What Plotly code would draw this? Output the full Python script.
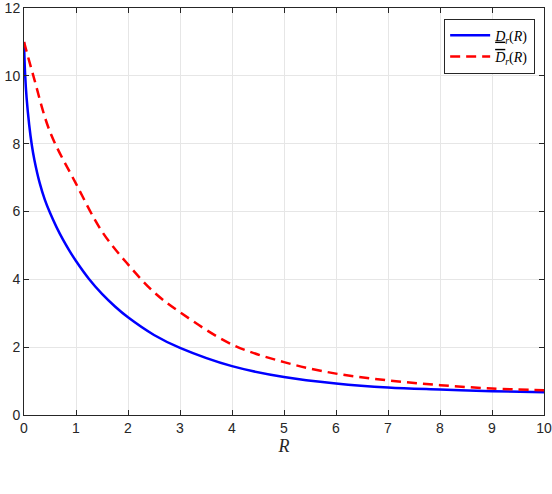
import plotly.graph_objects as go

# curve values
r_lower = [0, 0.02, 0.05, 0.1, 0.15, 0.2, 0.3, 0.4, 0.5, 0.625, 0.75, 0.875, 1, 1.25, 1.5, 1.75, 2, 2.5, 3, 4, 5, 6, 7, 8, 9, 10]
d_lower = [11.0, 10.1, 9.35, 8.55, 7.96, 7.52, 6.85, 6.35, 5.96, 5.54, 5.17, 4.84, 4.54, 4.01, 3.57, 3.20, 2.88, 2.36, 1.98, 1.44, 1.12, 0.93, 0.81, 0.75, 0.70, 0.67]

r_upper = [0, 0.18, 0.5, 1, 1.5, 2, 2.5, 3, 4, 5, 6, 7, 8, 9, 10]
d_upper = [11.0, 10.0, 8.35, 6.82, 5.41, 4.44, 3.62, 3.03, 2.08, 1.56, 1.22, 1.02, 0.88, 0.78, 0.73]

x_ticks = list(range(0, 11))
y_ticks = [0, 2, 4, 6, 8, 10, 12]

name_lower = '<u><i>D</i></u><sub><i>r</i></sub>(<i>R</i>)'
name_upper = '<span style="text-decoration:overline"><i>D</i></span><sub><i>r</i></sub>(<i>R</i>)'

fig = go.Figure()
fig.add_trace(go.Scatter(x=r_lower, y=d_lower, mode='lines', name=name_lower,
                         line=dict(color='#0000ff', width=2.5, shape='spline', smoothing=1.0)))
fig.add_trace(go.Scatter(x=r_upper, y=d_upper, mode='lines', name=name_upper,
                         line=dict(color='#ff0000', width=2.5, dash='10px,6px', shape='spline', smoothing=1.0)))

axis_common = dict(
    showline=True, linecolor='#262626', linewidth=1, mirror='ticks',
    ticks='inside', ticklen=5, tickcolor='#262626',
    showgrid=True, gridcolor='#e6e6e6', gridwidth=1,
    zeroline=False, automargin=False, ticklabeloverflow='allow',
    tickfont=dict(family='Liberation Sans, Arial', size=14, color='#262626'),
)

fig.update_xaxes(range=[0, 10], tickvals=x_ticks,
                 title=dict(text='<i>R</i>', font=dict(family='Liberation Serif, Times New Roman', size=18, color='#262626'),
                            standoff=2),
                 **axis_common)
fig.update_yaxes(range=[0, 12], tickvals=y_ticks, **axis_common)

fig.update_layout(
    width=552, height=494,
    margin=dict(l=24, r=8, t=8, b=79),
    paper_bgcolor='white',
    plot_bgcolor='white',
    showlegend=True,
    legend=dict(
        x=0.983, y=0.974, xanchor='right', yanchor='top',
        bgcolor='white', bordercolor='#262626', borderwidth=1,
        font=dict(family='Liberation Serif, Times New Roman', size=14, color='#000000'),
        tracegroupgap=0, itemwidth=40,
    ),
)

# drop the browser's default body margin so the 552x494 figure fills the window
fig.write_html("out.html", config={'displayModeBar': False},
               post_script="document.body.style.margin='0';")
